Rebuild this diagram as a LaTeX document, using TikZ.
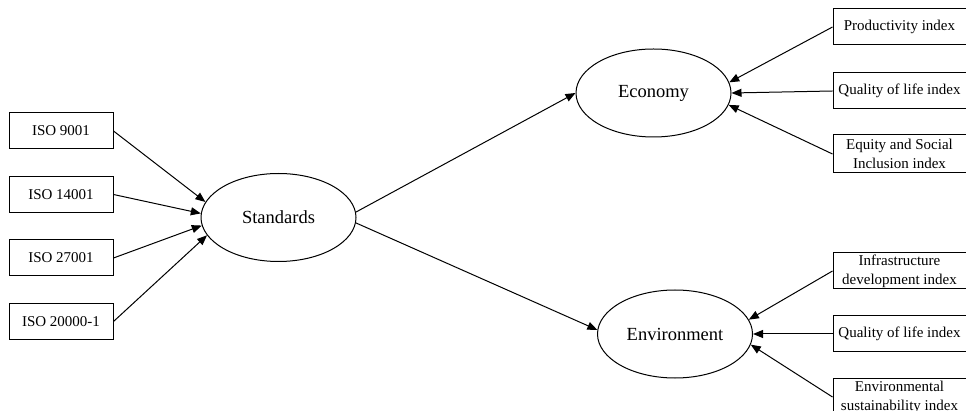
\documentclass[tikz,border=0pt]{standalone}
\usepackage{fontspec}
\setmainfont{Liberation Serif}
\usetikzlibrary{shapes.geometric,arrows.meta}

\begin{document}
\begin{tikzpicture}[x=1pt,y=-1pt,
  stdbox/.style={draw,line width=1pt,minimum width=104pt,minimum height=36pt,inner sep=1pt,font=\fontsize{15}{20}\selectfont},
  idxbox/.style={draw,line width=1pt,minimum width=133pt,minimum height=36pt,inner sep=1pt,align=center,font=\fontsize{15}{19}\selectfont},
  dim/.style={draw,ellipse,line width=1pt,minimum width=155pt,minimum height=88pt,inner sep=0pt,font=\fontsize{18.5}{22}\selectfont},
  link/.style={line width=1pt,-{Triangle[length=10pt,width=8pt]}}]
\useasboundingbox (0,0) rectangle (966,411);
\clip (0,0) rectangle (966,411);
% dimensions
\node[dim] (std) at (278.5,217.5) {Standards};
\node[dim] (eco) at (653.5,93) {Economy};
\node[dim] (env) at (675,334) {Environment};
% standards
\node[stdbox] (iso1) at (61,131) {ISO 9001};
\node[stdbox] (iso2) at (61,194.5) {ISO 14001};
\node[stdbox] (iso3) at (61,258) {ISO 27001};
\node[stdbox] (iso4) at (61,321.5) {ISO 20000-1};
% indices
\node[idxbox] (prod) at (899.5,27) {Productivity index};
\node[idxbox] (qual1) at (899.5,91) {Quality of life index};
\node[idxbox,minimum height=38pt] (equi) at (899.5,154) {Equity and Social\\Inclusion index};
\node[idxbox] (infr) at (899.5,271) {Infrastructure\\development index};
\node[idxbox] (qual2) at (899.5,334) {Quality of life index};
\node[idxbox,minimum height=38pt] (sust) at (899.5,397) {Environmental\\sustainability index};
% links
\draw[link] (iso1.east) -- (std.168);
\draw[link] (iso2.east) -- (std.177);
\draw[link] (iso3.east) -- (std.186);
\draw[link] (iso4.east) -- (std.194);
\draw[link] (std.4) -- (eco.180);
\draw[link] (std.-4) -- (env.177);
\draw[link] (prod.west) -- (eco.8);
\draw[link] (qual1.west) -- (eco.0);
\draw[link] (equi.west) -- (eco.-9);
\draw[link] (infr.west) -- (env.11);
\draw[link] (qual2.west) -- (env.0);
\draw[link] (sust.west) -- (env.-8);
\end{tikzpicture}
\end{document}
